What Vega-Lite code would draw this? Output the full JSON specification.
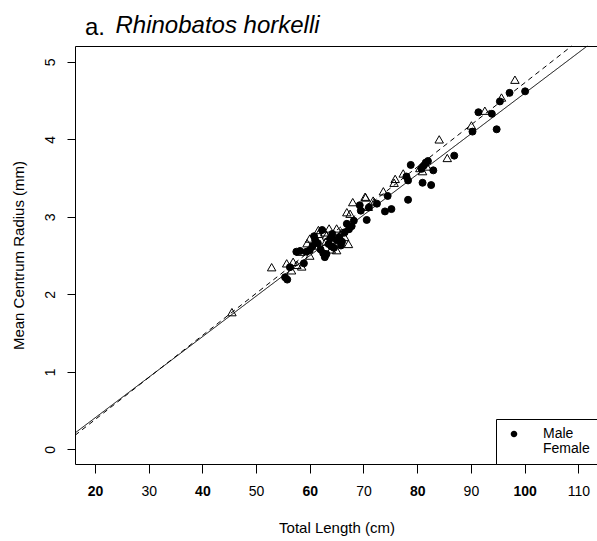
{
  "$schema": "https://vega.github.io/schema/vega-lite/v6.json",
  "width": 523,
  "height": 418,
  "autosize": {"type": "none"},
  "padding": {"left": 75, "top": 46, "right": 0, "bottom": 77},
  "background": "white",
  "title": {
    "text": "a.",
    "anchor": "start",
    "frame": "group",
    "font": "Liberation Sans",
    "fontSize": 24,
    "fontWeight": "normal",
    "color": "black",
    "dx": 10,
    "dy": 60,
    "baseline": "alphabetic",
    "offset": 14
  },
  "config": {
    "view": {"stroke": "black", "strokeWidth": 1},
    "font": "Liberation Sans",
    "axis": {
      "domain": false,
      "grid": false,
      "tickColor": "black",
      "tickWidth": 1,
      "labelFont": "Liberation Sans",
      "labelFontSize": 14,
      "labelColor": "black",
      "titleFont": "Liberation Sans",
      "titleFontSize": 15,
      "titleFontWeight": "normal",
      "titleColor": "black"
    },
    "legend": {
      "labelFont": "Liberation Sans",
      "labelFontSize": 14,
      "labelColor": "black"
    }
  },
  "data": {
    "values": [
      {"sex": "Male", "tl": 55.4, "cr": 2.22},
      {"sex": "Male", "tl": 55.8, "cr": 2.19},
      {"sex": "Male", "tl": 56.3, "cr": 2.35},
      {"sex": "Male", "tl": 57.5, "cr": 2.55},
      {"sex": "Male", "tl": 58.2, "cr": 2.56},
      {"sex": "Male", "tl": 58.9, "cr": 2.40},
      {"sex": "Male", "tl": 59.4, "cr": 2.55},
      {"sex": "Male", "tl": 60.0, "cr": 2.57},
      {"sex": "Male", "tl": 60.5, "cr": 2.62},
      {"sex": "Male", "tl": 60.8, "cr": 2.75},
      {"sex": "Male", "tl": 61.0, "cr": 2.70},
      {"sex": "Male", "tl": 61.5, "cr": 2.66},
      {"sex": "Male", "tl": 62.0, "cr": 2.58},
      {"sex": "Male", "tl": 62.3, "cr": 2.83},
      {"sex": "Male", "tl": 62.5, "cr": 2.53},
      {"sex": "Male", "tl": 62.8, "cr": 2.48},
      {"sex": "Male", "tl": 63.1, "cr": 2.52},
      {"sex": "Male", "tl": 63.5, "cr": 2.65},
      {"sex": "Male", "tl": 63.8, "cr": 2.72},
      {"sex": "Male", "tl": 64.0, "cr": 2.62},
      {"sex": "Male", "tl": 64.2, "cr": 2.78},
      {"sex": "Male", "tl": 64.5, "cr": 2.60},
      {"sex": "Male", "tl": 65.0, "cr": 2.70},
      {"sex": "Male", "tl": 65.5, "cr": 2.74},
      {"sex": "Male", "tl": 65.8, "cr": 2.63},
      {"sex": "Male", "tl": 66.0, "cr": 2.68},
      {"sex": "Male", "tl": 66.5, "cr": 2.80},
      {"sex": "Male", "tl": 66.9, "cr": 2.91},
      {"sex": "Male", "tl": 67.3, "cr": 2.84},
      {"sex": "Male", "tl": 67.8, "cr": 2.88},
      {"sex": "Male", "tl": 68.2, "cr": 2.95},
      {"sex": "Male", "tl": 69.3, "cr": 3.15},
      {"sex": "Male", "tl": 69.5, "cr": 3.08},
      {"sex": "Male", "tl": 70.6, "cr": 2.96},
      {"sex": "Male", "tl": 71.0, "cr": 3.12},
      {"sex": "Male", "tl": 72.5, "cr": 3.17},
      {"sex": "Male", "tl": 74.0, "cr": 3.07},
      {"sex": "Male", "tl": 74.5, "cr": 3.27},
      {"sex": "Male", "tl": 75.2, "cr": 3.10},
      {"sex": "Male", "tl": 78.0, "cr": 3.52},
      {"sex": "Male", "tl": 78.3, "cr": 3.47},
      {"sex": "Male", "tl": 78.3, "cr": 3.22},
      {"sex": "Male", "tl": 78.8, "cr": 3.67},
      {"sex": "Male", "tl": 80.8, "cr": 3.62},
      {"sex": "Male", "tl": 81.2, "cr": 3.66},
      {"sex": "Male", "tl": 81.6, "cr": 3.70},
      {"sex": "Male", "tl": 82.0, "cr": 3.72},
      {"sex": "Male", "tl": 81.0, "cr": 3.44},
      {"sex": "Male", "tl": 82.6, "cr": 3.41},
      {"sex": "Male", "tl": 83.0, "cr": 3.60},
      {"sex": "Male", "tl": 86.9, "cr": 3.79},
      {"sex": "Male", "tl": 90.3, "cr": 4.10},
      {"sex": "Male", "tl": 91.4, "cr": 4.35},
      {"sex": "Male", "tl": 93.9, "cr": 4.33},
      {"sex": "Male", "tl": 94.8, "cr": 4.13},
      {"sex": "Male", "tl": 95.4, "cr": 4.49},
      {"sex": "Male", "tl": 97.2, "cr": 4.60},
      {"sex": "Male", "tl": 100.1, "cr": 4.62},
      {"sex": "Female", "tl": 45.5, "cr": 1.77},
      {"sex": "Female", "tl": 52.9, "cr": 2.35},
      {"sex": "Female", "tl": 55.7, "cr": 2.40},
      {"sex": "Female", "tl": 56.6, "cr": 2.31},
      {"sex": "Female", "tl": 56.9, "cr": 2.42},
      {"sex": "Female", "tl": 57.6, "cr": 2.38},
      {"sex": "Female", "tl": 58.5, "cr": 2.36},
      {"sex": "Female", "tl": 58.2, "cr": 2.55},
      {"sex": "Female", "tl": 59.5, "cr": 2.66},
      {"sex": "Female", "tl": 60.0, "cr": 2.50},
      {"sex": "Female", "tl": 60.0, "cr": 2.72},
      {"sex": "Female", "tl": 61.0, "cr": 2.63},
      {"sex": "Female", "tl": 61.6, "cr": 2.78},
      {"sex": "Female", "tl": 61.6, "cr": 2.83},
      {"sex": "Female", "tl": 62.8, "cr": 2.80},
      {"sex": "Female", "tl": 63.0, "cr": 2.68},
      {"sex": "Female", "tl": 63.1, "cr": 2.76},
      {"sex": "Female", "tl": 63.6, "cr": 2.85},
      {"sex": "Female", "tl": 64.0, "cr": 2.58},
      {"sex": "Female", "tl": 64.4, "cr": 2.70},
      {"sex": "Female", "tl": 65.0, "cr": 2.85},
      {"sex": "Female", "tl": 65.0, "cr": 2.57},
      {"sex": "Female", "tl": 65.9, "cr": 2.80},
      {"sex": "Female", "tl": 66.5, "cr": 2.74},
      {"sex": "Female", "tl": 67.2, "cr": 2.65},
      {"sex": "Female", "tl": 66.9, "cr": 3.06},
      {"sex": "Female", "tl": 67.5, "cr": 3.04},
      {"sex": "Female", "tl": 68.0, "cr": 3.19},
      {"sex": "Female", "tl": 70.4, "cr": 3.25},
      {"sex": "Female", "tl": 70.9, "cr": 3.13},
      {"sex": "Female", "tl": 70.3, "cr": 3.26},
      {"sex": "Female", "tl": 71.8, "cr": 3.21},
      {"sex": "Female", "tl": 72.0, "cr": 3.19},
      {"sex": "Female", "tl": 73.7, "cr": 3.33},
      {"sex": "Female", "tl": 75.7, "cr": 3.44},
      {"sex": "Female", "tl": 75.9, "cr": 3.49},
      {"sex": "Female", "tl": 77.4, "cr": 3.56},
      {"sex": "Female", "tl": 80.5, "cr": 3.63},
      {"sex": "Female", "tl": 81.0, "cr": 3.59},
      {"sex": "Female", "tl": 81.8, "cr": 3.65},
      {"sex": "Female", "tl": 84.1, "cr": 4.00},
      {"sex": "Female", "tl": 85.6, "cr": 3.76},
      {"sex": "Female", "tl": 90.1, "cr": 4.18},
      {"sex": "Female", "tl": 92.6, "cr": 4.37},
      {"sex": "Female", "tl": 95.7, "cr": 4.54},
      {"sex": "Female", "tl": 98.2, "cr": 4.77}
    ]
  },
  "resolve": {"axis": {"x": "independent", "y": "independent"}},
  "layer": [
    {
      "mark": {"type": "point", "strokeWidth": 1, "opacity": 1, "stroke": "black"},
      "encoding": {
        "x": {
          "field": "tl",
          "type": "quantitative",
          "scale": {"domain": [16.28, 113.67], "nice": false, "zero": false},
          "axis": {
            "orient": "bottom",
            "title": "Total Length (cm)",
            "values": [20, 30, 40, 50, 60, 70, 80, 90, 100, 110],
            "tickSize": 9,
            "labelPadding": 11,
            "labelFontWeight": {"condition": {"test": "datum.value % 20 === 0", "value": "bold"}, "value": "normal"},
            "titleY": 68,
            "titleBaseline": "alphabetic"
          }
        },
        "y": {
          "field": "cr",
          "type": "quantitative",
          "scale": {"domain": [-0.19, 5.205], "nice": false, "zero": false},
          "axis": {
            "orient": "left",
            "title": "Mean Centrum Radius (mm)",
            "values": [0, 1, 2, 3, 4, 5],
            "tickSize": 8,
            "labelAngle": -90,
            "labelAlign": "center",
            "labelBaseline": "bottom",
            "labelPadding": 10,
            "titleX": -52,
            "titleBaseline": "alphabetic"
          }
        },
        "shape": {
          "condition": {"test": "datum.sex === 'Male'", "value": "circle"},
          "value": "triangle-up"
        },
        "fill": {
          "condition": {"test": "datum.sex === 'Male'", "value": "black"},
          "value": "transparent"
        },
        "size": {
          "condition": {"test": "datum.sex === 'Male'", "value": 49},
          "value": 72
        }
      }
    },
    {
      "data": {
        "values": [
          {"sex": "Male", "tl": 16.28, "cr": 0.21},
          {"sex": "Male", "tl": 111.67, "cr": 5.205},
          {"sex": "Female", "tl": 16.28, "cr": 0.18},
          {"sex": "Female", "tl": 108.77, "cr": 5.205}
        ]
      },
      "mark": {"type": "line", "color": "black", "strokeWidth": 1},
      "encoding": {
        "x": {
          "field": "tl",
          "type": "quantitative",
          "axis": {
            "orient": "top",
            "domain": false,
            "ticks": false,
            "labels": false,
            "grid": false,
            "title": "Rhinobatos horkelli",
            "titleFontStyle": "italic",
            "titleFontSize": 24,
            "titleFontWeight": "normal",
            "titleAnchor": "start",
            "titleAlign": "left",
            "titleBaseline": "alphabetic",
            "titleX": 40,
            "titleY": -14
          }
        },
        "y": {"field": "cr", "type": "quantitative", "axis": null},
        "detail": {"field": "sex", "type": "nominal"},
        "strokeDash": {
          "condition": {"test": "datum.sex === 'Female'", "value": [5, 4]},
          "value": [1, 0]
        }
      }
    },
    {
      "mark": {"type": "point", "opacity": 0, "strokeWidth": 1, "color": "black"},
      "encoding": {
        "x": {"field": "tl", "type": "quantitative", "axis": null},
        "y": {"field": "cr", "type": "quantitative", "axis": null},
        "shape": {
          "field": "sex",
          "type": "nominal",
          "scale": {
            "domain": ["Male", "Female"],
            "range": [
              "M-11,0H17M-0.3,0A3.3,3.3,0,1,1,6.3,0A3.3,3.3,0,1,1,-0.3,0Z",
              "M-11,0H-7M13,0H17M3,-4L8,3.5L-2,3.5Z"
            ]
          },
          "legend": {
            "orient": "bottom-right",
            "offset": 0,
            "title": null,
            "padding": 8,
            "strokeColor": "black",
            "fillColor": "white",
            "symbolSize": 4,
            "symbolOpacity": 1,
            "symbolStrokeColor": "black",
            "symbolStrokeWidth": 1,
            "labelOffset": 25,
            "rowPadding": 1
          }
        },
        "fill": {
          "field": "sex",
          "type": "nominal",
          "scale": {"domain": ["Male", "Female"], "range": ["black", "transparent"]},
          "legend": {
            "orient": "bottom-right",
            "offset": 0,
            "title": null,
            "padding": 8,
            "strokeColor": "black",
            "fillColor": "white",
            "symbolSize": 4,
            "symbolOpacity": 1,
            "symbolStrokeColor": "black",
            "symbolStrokeWidth": 1,
            "labelOffset": 25,
            "rowPadding": 1
          }
        }
      }
    }
  ]
}
